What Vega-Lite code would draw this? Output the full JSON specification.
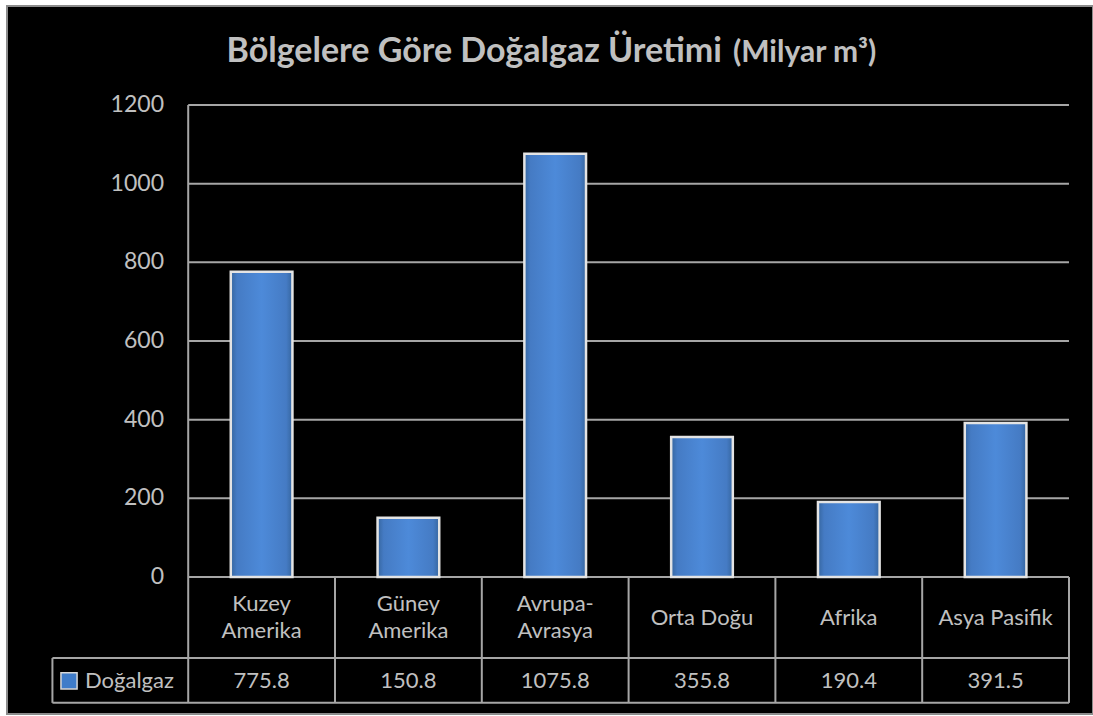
{
  "$schema": "https://vega.github.io/schema/vega-lite/v6.json",
  "width": 1093,
  "height": 716,
  "autosize": {"type": "fit", "contains": "padding"},
  "padding": {"left": 7, "top": 6, "right": 0, "bottom": 2},
  "background": "white",
  "config": {
    "view": {"fill": "black", "stroke": "#8c8c8c", "strokeWidth": 2},
    "font": "Lato",
    "axis": {"disable": true}
  },
  "datasets": {
    "gas": [
      {"region": "Kuzey Amerika", "label": "Kuzey\nAmerika", "value": 775.8},
      {"region": "Güney Amerika", "label": "Güney\nAmerika", "value": 150.8},
      {"region": "Avrupa-Avrasya", "label": "Avrupa-\nAvrasya", "value": 1075.8},
      {"region": "Orta Doğu", "label": "Orta Doğu", "value": 355.8},
      {"region": "Afrika", "label": "Afrika", "value": 190.4},
      {"region": "Asya Pasifik", "label": "Asya Pasifik", "value": 391.5}
    ],
    "ticks": [{"t": 0}, {"t": 200}, {"t": 400}, {"t": 600}, {"t": 800}, {"t": 1000}, {"t": 1200}],
    "one": [{"series": "Doğalgaz"}]
  },
  "layer": [
    {
      "data": {"name": "ticks"},
      "mark": {"type": "rule", "color": "#a6a6a6", "strokeWidth": 2},
      "encoding": {
        "x": {"datum": "Asya Pasifik", "type": "nominal", "bandPosition": 1, "axis": null,
              "scale": {"domain": ["_leg", "Kuzey Amerika", "Güney Amerika", "Avrupa-Avrasya", "Orta Doğu", "Afrika", "Asya Pasifik"], "paddingInner": 0, "paddingOuter": 0.199, "align": 0.589}},
        "x2": {"datum": "Kuzey Amerika", "bandPosition": 0},
        "y": {"field": "t", "type": "quantitative", "axis": null, "scale": {"domain": [-348.3, 1451.7], "nice": false, "zero": false}}
      }
    },
    {
      "data": {"name": "one"},
      "mark": {"type": "rule", "color": "#a6a6a6", "strokeWidth": 2},
      "encoding": {
        "x": {"datum": "Asya Pasifik", "type": "nominal", "bandPosition": 1, "axis": null},
        "x2": {"datum": "_leg", "bandPosition": 0.075},
        "y": {"datum": -206, "type": "quantitative", "axis": null}
      }
    },
    {
      "data": {"name": "one"},
      "mark": {"type": "rule", "color": "#a6a6a6", "strokeWidth": 2},
      "encoding": {
        "x": {"datum": "Asya Pasifik", "type": "nominal", "bandPosition": 1, "axis": null},
        "x2": {"datum": "_leg", "bandPosition": 0.075},
        "y": {"datum": -320, "type": "quantitative", "axis": null}
      }
    },
    {
      "data": {"name": "gas"},
      "mark": {"type": "rule", "color": "#a6a6a6", "strokeWidth": 2},
      "encoding": {
        "x": {"field": "region", "type": "nominal", "bandPosition": 0, "axis": null},
        "y": {"datum": 0, "type": "quantitative", "axis": null},
        "y2": {"datum": -320}
      }
    },
    {
      "data": {"name": "one"},
      "mark": {"type": "rule", "color": "#a6a6a6", "strokeWidth": 2},
      "encoding": {
        "x": {"datum": "Asya Pasifik", "type": "nominal", "bandPosition": 1, "axis": null},
        "y": {"datum": 0, "type": "quantitative", "axis": null},
        "y2": {"datum": -320}
      }
    },
    {
      "data": {"name": "one"},
      "mark": {"type": "rule", "color": "#a6a6a6", "strokeWidth": 2},
      "encoding": {
        "x": {"datum": "Kuzey Amerika", "type": "nominal", "bandPosition": 0, "axis": null},
        "y": {"datum": 1200, "type": "quantitative", "axis": null},
        "y2": {"datum": 0}
      }
    },
    {
      "data": {"name": "one"},
      "mark": {"type": "rule", "color": "#a6a6a6", "strokeWidth": 2},
      "encoding": {
        "x": {"datum": "_leg", "type": "nominal", "bandPosition": 0.075, "axis": null},
        "y": {"datum": -206, "type": "quantitative", "axis": null},
        "y2": {"datum": -320}
      }
    },
    {
      "data": {"name": "gas"},
      "mark": {
        "type": "bar",
        "width": {"band": 0.42},
        "stroke": "#e4e4e4",
        "strokeWidth": 2.5,
        "fill": {
          "gradient": "linear", "x1": 0, "x2": 1, "y1": 0, "y2": 0,
          "stops": [
            {"offset": 0, "color": "#36669f"},
            {"offset": 0.1, "color": "#457bc4"},
            {"offset": 0.5, "color": "#4d8ad9"},
            {"offset": 0.9, "color": "#457bc4"},
            {"offset": 1, "color": "#36669f"}
          ]
        }
      },
      "encoding": {
        "x": {"field": "region", "type": "nominal", "axis": null},
        "y": {"field": "value", "type": "quantitative", "axis": null}
      }
    },
    {
      "data": {"name": "gas"},
      "transform": [{"filter": {"field": "region", "oneOf": ["Kuzey Amerika", "Güney Amerika", "Avrupa-Avrasya"]}}],
      "mark": {"type": "text", "fontSize": 22, "lineBreak": "\n", "lineHeight": 27, "baseline": "middle", "align": "center", "fill": "#c0c0c0"},
      "encoding": {
        "x": {"field": "region", "type": "nominal", "axis": null},
        "y": {"datum": -69, "type": "quantitative", "axis": null},
        "text": {"field": "label"}
      }
    },
    {
      "data": {"name": "gas"},
      "transform": [{"filter": {"field": "region", "oneOf": ["Orta Doğu", "Afrika", "Asya Pasifik"]}}],
      "mark": {"type": "text", "fontSize": 22, "baseline": "middle", "align": "center", "fill": "#c0c0c0"},
      "encoding": {
        "x": {"field": "region", "type": "nominal", "axis": null},
        "y": {"datum": -103, "type": "quantitative", "axis": null},
        "text": {"field": "label"}
      }
    },
    {
      "data": {"name": "gas"},
      "mark": {"type": "text", "fontSize": 22, "baseline": "middle", "align": "center", "fill": "#c0c0c0"},
      "encoding": {
        "x": {"field": "region", "type": "nominal", "axis": null},
        "y": {"datum": -264, "type": "quantitative", "axis": null},
        "text": {"field": "value", "type": "quantitative", "format": ".1f"}
      }
    },
    {
      "data": {"name": "ticks"},
      "mark": {"type": "text", "fontSize": 23, "baseline": "middle", "align": "right", "fill": "#c0c0c0"},
      "encoding": {
        "x": {"datum": "_leg", "type": "nominal", "bandPosition": 0.835, "axis": null},
        "y": {"field": "t", "type": "quantitative", "axis": null},
        "text": {"field": "t", "type": "quantitative", "format": "d"}
      }
    },
    {
      "data": {"name": "one"},
      "mark": {"type": "point", "shape": "square", "size": 260, "filled": true, "fill": "#3f7cc9", "stroke": "#d8d8d8", "strokeWidth": 1.5, "opacity": 1},
      "encoding": {
        "x": {"datum": "_leg", "type": "nominal", "bandPosition": 0.188, "axis": null},
        "y": {"datum": -264, "type": "quantitative", "axis": null}
      }
    },
    {
      "data": {"name": "one"},
      "mark": {"type": "text", "fontSize": 22, "baseline": "middle", "align": "left", "fill": "#c0c0c0"},
      "encoding": {
        "x": {"datum": "_leg", "type": "nominal", "bandPosition": 0.297, "axis": null},
        "y": {"datum": -264, "type": "quantitative", "axis": null},
        "text": {"field": "series"}
      }
    },
    {
      "data": {"name": "one"},
      "mark": {"type": "text", "fontSize": 34, "fontWeight": "bold", "baseline": "alphabetic", "align": "right", "fill": "#c0c0c0"},
      "encoding": {
        "x": {"datum": "Orta Doğu", "type": "nominal", "bandPosition": 0.636, "axis": null},
        "y": {"datum": 1309, "type": "quantitative", "axis": null},
        "text": {"value": "Bölgelere Göre Doğalgaz Üretimi"}
      }
    },
    {
      "data": {"name": "one"},
      "mark": {"type": "text", "fontSize": 30, "fontWeight": "bold", "baseline": "alphabetic", "align": "left", "fill": "#c0c0c0"},
      "encoding": {
        "x": {"datum": "Orta Doğu", "type": "nominal", "bandPosition": 0.711, "axis": null},
        "y": {"datum": 1309, "type": "quantitative", "axis": null},
        "text": {"value": "(Milyar m³)"}
      }
    }
  ]
}
